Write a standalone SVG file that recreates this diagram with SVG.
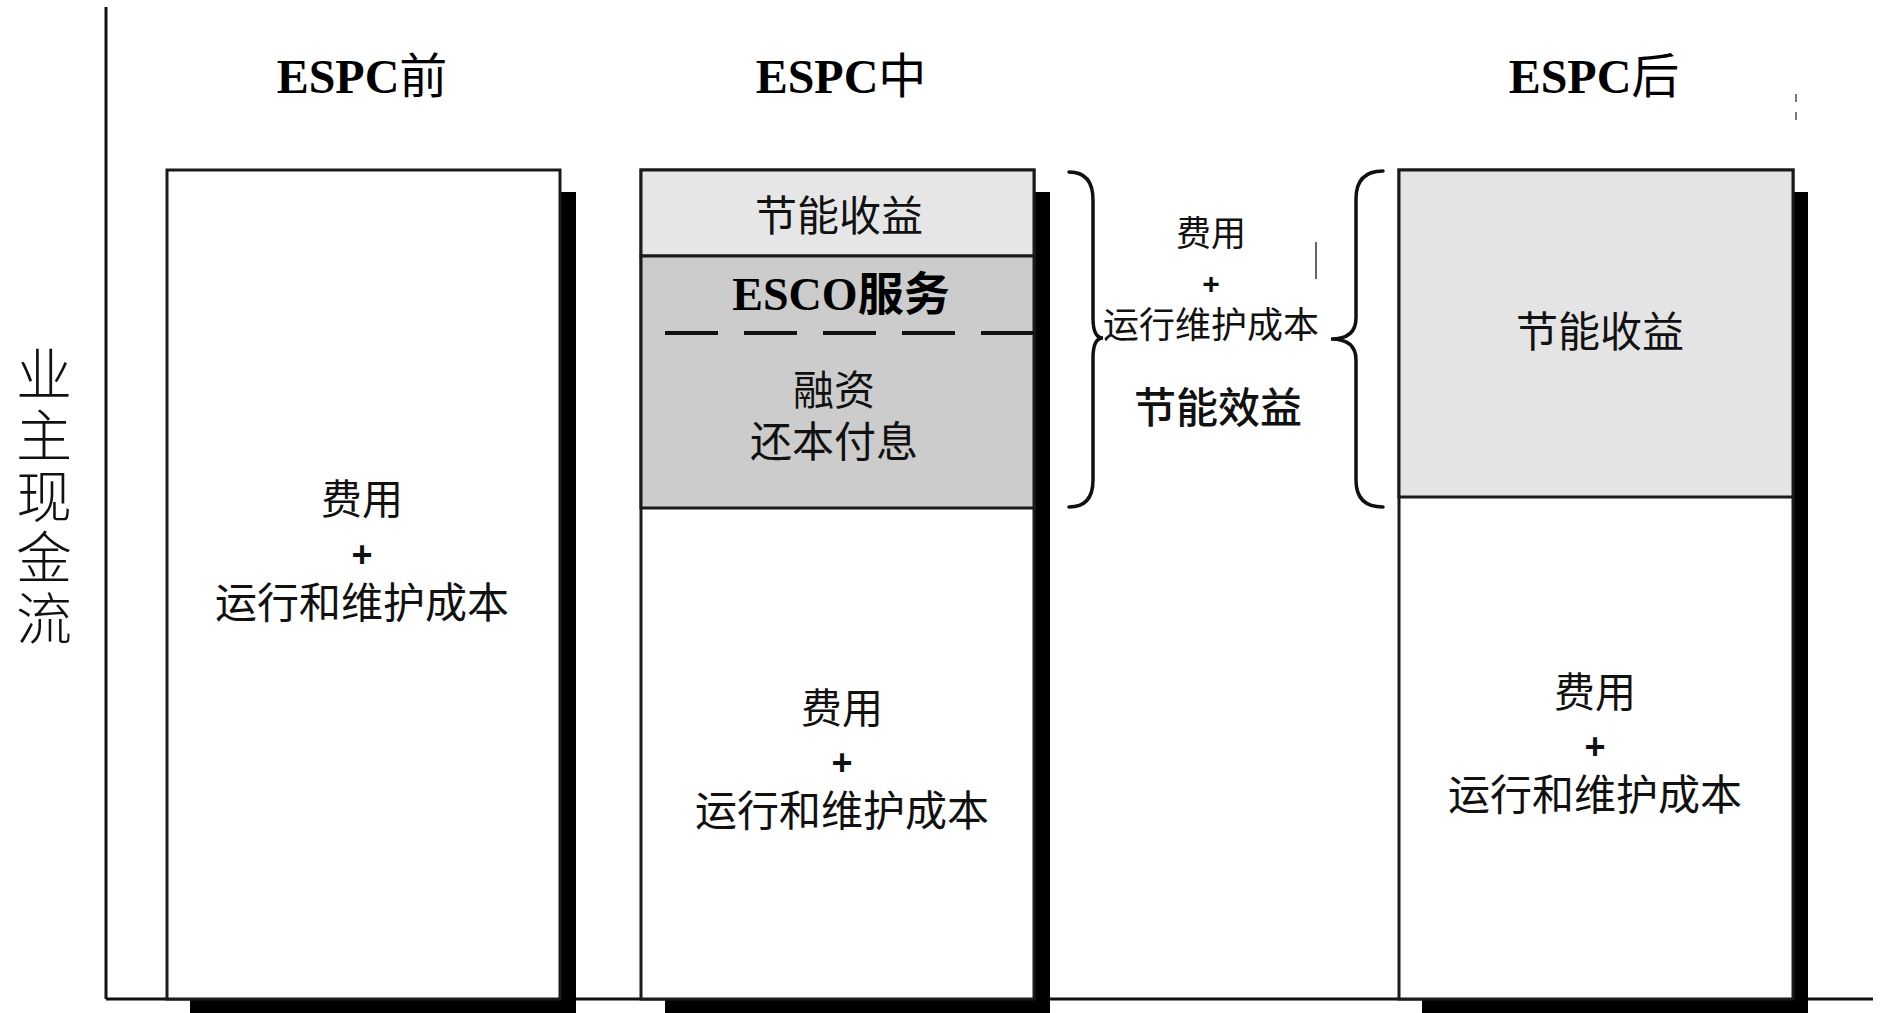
<svg xmlns="http://www.w3.org/2000/svg" width="1881" height="1013" viewBox="0 0 1881 1013">
<style>
.box{stroke:#1a1a1a;stroke-width:3}
.shadow{fill:#000}
.cjk{font-family:"Noto Sans CJK SC","Noto Sans",sans-serif;fill:#111;text-anchor:middle}
.title{font-family:"Liberation Serif","Noto Sans CJK SC",serif;font-weight:bold;fill:#000;text-anchor:middle;font-size:48px}
.plus{font-family:"Liberation Sans",sans-serif;font-weight:bold;fill:#111}
.brace{fill:none;stroke:#111;stroke-width:3.5;stroke-linecap:round}
.axis{stroke:#111;stroke-width:3;fill:none}
</style>
<rect width="1881" height="1013" fill="#fff"/>

<g id="axes">
<line class="axis" x1="106" y1="7" x2="106" y2="999"/>
<line class="axis" x1="106" y1="999" x2="1873" y2="999"/>
</g>

<g id="ylabel">
<text x="44" y="346" font-family="Noto Sans CJK SC, sans-serif" font-size="56" font-weight="300" fill="#111" letter-spacing="5" style="writing-mode:vertical-rl">业主现金流</text>
</g>

<g id="titles">
<text class="title" x="362" y="93">ESPC<tspan font-family="Noto Sans CJK SC" font-weight="normal">前</tspan></text>
<text class="title" x="841" y="93">ESPC<tspan font-family="Noto Sans CJK SC" font-weight="normal">中</tspan></text>
<text class="title" x="1594" y="93">ESPC<tspan font-family="Noto Sans CJK SC" font-weight="normal">后</tspan></text>
</g>

<g id="box-before">
<rect class="shadow" x="560" y="192" width="16" height="821"/>
<rect class="shadow" x="190" y="999" width="386" height="14"/>
<rect class="box" x="167" y="170" width="393" height="829" fill="#fff"/>
<text class="cjk" font-size="41"><tspan x="362" y="514">费用</tspan><tspan class="plus" x="362" y="567" font-size="36">+</tspan><tspan x="362" y="618" font-size="42">运行和维护成本</tspan></text>
</g>

<g id="box-during">
<rect class="shadow" x="1034" y="192" width="16" height="821"/>
<rect class="shadow" x="665" y="999" width="385" height="14"/>
<rect class="box" x="641" y="170" width="393" height="829" fill="#fff"/>
<rect class="box" x="641" y="170" width="393" height="86" fill="#e6e6e6"/>
<rect class="box" x="641" y="256" width="393" height="252" fill="#cccccc"/>
<line x1="665" y1="333" x2="1034" y2="333" stroke="#111" stroke-width="4" stroke-dasharray="53 26"/>
<text class="cjk" x="839" y="231" font-size="42">节能收益</text>
<text class="title" x="841" y="310" style="font-size:46px">ESCO<tspan font-family="Noto Sans CJK SC">服务</tspan></text>
<text class="cjk" font-size="41"><tspan x="834" y="405">融资</tspan><tspan x="834" y="457" font-size="42">还本付息</tspan></text>
<text class="cjk" font-size="41"><tspan x="842" y="723">费用</tspan><tspan class="plus" x="842" y="775" font-size="36">+</tspan><tspan x="842" y="826" font-size="42">运行和维护成本</tspan></text>
</g>

<g id="box-after">
<rect class="shadow" x="1793" y="192" width="15" height="821"/>
<rect class="shadow" x="1422" y="999" width="386" height="14"/>
<rect class="box" x="1399" y="170" width="394" height="829" fill="#fff"/>
<rect class="box" x="1399" y="170" width="394" height="327" fill="#e4e4e4"/>
<text class="cjk" x="1600" y="347" font-size="42">节能收益</text>
<text class="cjk" font-size="41"><tspan x="1595" y="707">费用</tspan><tspan class="plus" x="1595" y="759" font-size="36">+</tspan><tspan x="1595" y="810" font-size="42">运行和维护成本</tspan></text>
</g>

<g id="middle-label">
<text class="cjk" font-size="35"><tspan x="1211" y="246">费用</tspan><tspan class="plus" x="1211" y="294" font-size="30">+</tspan><tspan x="1211" y="338" font-size="36">运行维护成本</tspan><tspan x="1218" y="423" font-size="42" font-weight="500">节能效益</tspan></text>
</g>

<g id="connectors">
<path class="brace" d="M1069,172 Q1093,172 1093,200 L1093,318 Q1093,338 1103,338 Q1093,338 1093,358 L1093,480 Q1093,507 1069,507"/>
<path class="brace" d="M1383,171 Q1356,171 1356,199 L1356,318 Q1356,339 1331,339 Q1356,339 1356,360 L1356,480 Q1356,507 1383,507"/>
<line x1="1316" y1="242" x2="1316" y2="279" stroke="#333" stroke-width="1.5"/>
<line x1="1796" y1="94" x2="1796" y2="126" stroke="#777" stroke-width="2" stroke-dasharray="8 10"/>
</g>
</svg>
